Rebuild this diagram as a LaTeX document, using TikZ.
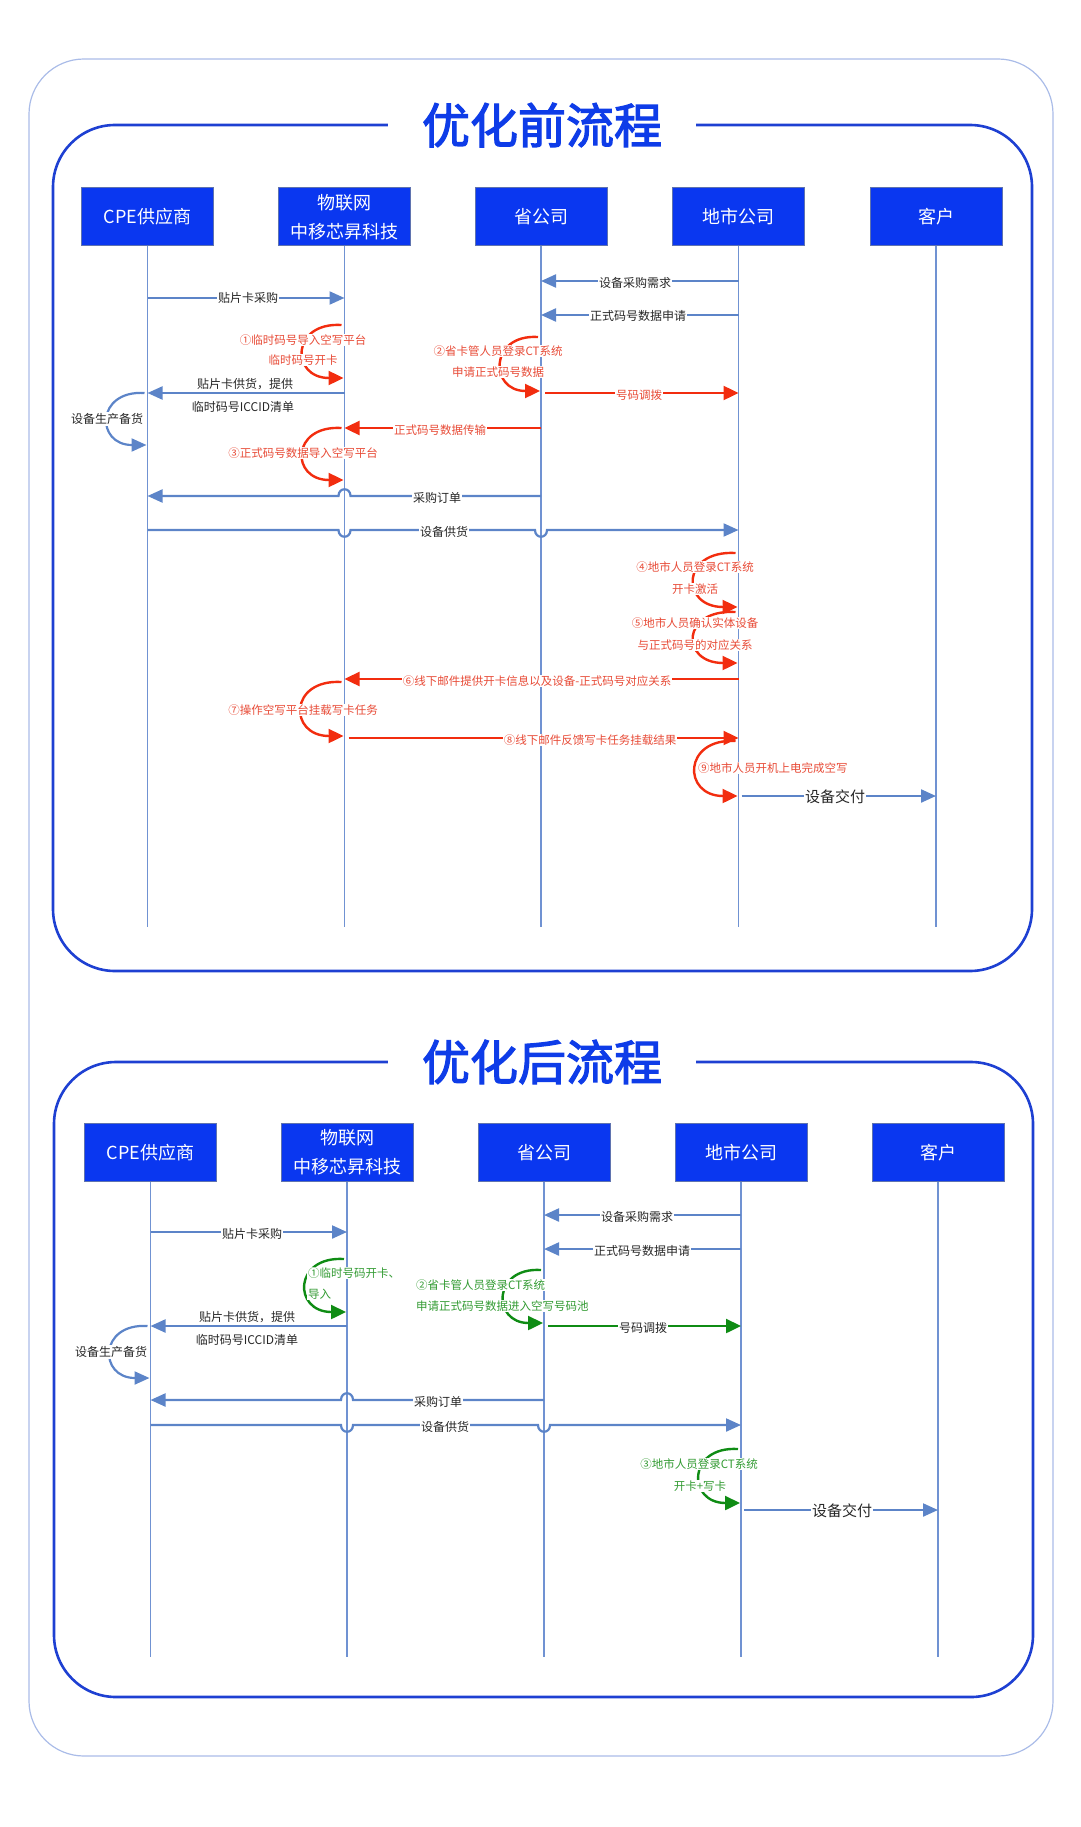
\documentclass[tikz,border=0pt]{standalone}
\usepackage{fontspec}
\setmainfont{Noto Sans CJK SC}
\newfontfamily\titlefont[FakeBold=2.5]{Noto Sans CJK SC}
\usetikzlibrary{arrows.meta,calc}

\definecolor{boxblue}{RGB}{10,55,240}
\definecolor{boxedge}{RGB}{95,115,175}
\definecolor{titleblue}{RGB}{14,60,232}
\definecolor{frameblue}{RGB}{30,64,210}
\definecolor{outerblue}{RGB}{170,188,232}
\definecolor{lifeblue}{RGB}{112,146,210}
\definecolor{msgblue}{RGB}{92,132,200}
\definecolor{stepred}{RGB}{242,45,15}
\definecolor{redtext}{RGB}{232,75,55}
\definecolor{stepgreen}{RGB}{15,140,20}
\definecolor{greentext}{RGB}{50,155,50}

\tikzset{
  lane/.style={draw=boxedge, line width=1pt, fill=boxblue, text=white, minimum width=132pt, minimum height=58pt, inner sep=0pt, align=center, font=\fontsize{18}{29}\selectfont},
  life/.style={lifeblue, line width=1.5pt},
  msg/.style={msgblue, line width=2.2pt, -{Triangle[length=15pt,width=13pt]}},
  redmsg/.style={stepred, line width=2.4pt, -{Triangle[length=15pt,width=14pt]}},
  greenmsg/.style={stepgreen, line width=2.4pt, -{Triangle[length=15pt,width=14pt]}},
  lbl/.style={fill=white, inner sep=1pt, text=black!85, font=\fontsize{12}{14}\selectfont},
  redlbl/.style={lbl, text=redtext, font=\fontsize{11.5}{14}\selectfont},
  greenlbl/.style={lbl, text=greentext, font=\fontsize{11.5}{14}\selectfont},
  heading/.style={fill=white, minimum width=308pt, inner sep=2pt, text=titleblue, font=\titlefont\fontsize{48}{52}\selectfont},
  frame/.style={frameblue, line width=2.6pt, rounded corners=62pt},
}
% curved step arrow beside a lifeline, bulging to the left
\def\steparc[#1](#2)(#3)#4{\draw[#1] ($(#2)+(-3,0)$) .. controls ($(#2)+(-#4,-3)$) and ($(#3)+(-#4,0)$) .. ($(#3)+(-1,0)$);}

\begin{document}
\begin{tikzpicture}[x=1pt,y=-1pt]
			\useasboundingbox (0,0) rectangle (1080,1827);
			%%%%% FRAMES %%%%%
			\draw[outerblue, line width=1.2pt, rounded corners=55pt] (29,59) rectangle (1053,1756);
			\draw[frame] (53,125) rectangle (1032,971);
			\draw[frame] (54,1062) rectangle (1033,1697);
			\node[heading] (headA) at (542,125) {优化前流程};
			\node[heading] (headB) at (542,1062) {优化后流程};
			
			%%%%% BEFORE %%%%%
			\node[lane] (cpeA) at (147.5,217) {CPE供应商};
			\node[lane] (iotA) at (344.5,217) {物联网\\中移芯昇科技};
			\node[lane] (provA) at (541,217) {省公司};
			\node[lane] (cityA) at (738.5,217) {地市公司};
			\node[lane] (custA) at (936,217) {客户};
			
			\draw[life] (cpeA.south) -- (cpeA.south |- 0,927);
			\draw[life] (iotA.south) -- (iotA.south |- 0,927);
			\draw[life] (provA.south) -- (provA.south |- 0,927);
			\draw[life] (cityA.south) -- (cityA.south |- 0,927);
			\draw[life] (custA.south) -- (custA.south |- 0,927);
			
			\draw[msg] (cityA |- 0,281) -- (provA |- 0,281);
			\node[lbl] (a1) at (635,283) {设备采购需求};
			\draw[msg] (cpeA |- 0,298) -- (iotA |- 0,298);
			\node[lbl] (a2) at (248,298) {贴片卡采购};
			\draw[msg] (cityA |- 0,315) -- (provA |- 0,315);
			\node[lbl] (a3) at (638,316) {正式码号数据申请};
			
			\steparc[redmsg](iotA |- 0,325)(iotA |- 0,378){54}
			\node[redlbl] (a4) at (303,340) {①临时码号导入空写平台};
			\node[redlbl] (a5) at (303,360) {临时码号开卡};
			
			\steparc[redmsg](provA |- 0,337)(provA |- 0,391){52}
			\node[redlbl] (a6) at (498,351) {②省卡管人员登录CT系统};
			\node[redlbl] (a7) at (498,372) {申请正式码号数据};
			\draw[redmsg] ($(provA |- 0,393)+(4,0)$) -- (cityA |- 0,393);
			\node[redlbl] (a8) at (639,395) {号码调拨};
			
			\draw[msg] (iotA |- 0,393) -- (cpeA |- 0,393);
			\node[lbl, fill=none] (a9) at (245,384) {贴片卡供货，提供};
			\node[lbl, fill=none] (a10) at (243,407) {临时码号ICCID清单};
			\steparc[msg](cpeA |- 0,393)(cpeA |- 0,445){52}
			\node[lbl] (a11) at (107,419) {设备生产备货};
			
			\draw[redmsg] (provA |- 0,428) -- (iotA |- 0,428);
			\node[redlbl] (a12) at (440,430) {正式码号数据传输};
			\steparc[redmsg](iotA |- 0,428)(iotA |- 0,480){54}
			\node[redlbl] (a13) at (303,453) {③正式码号数据导入空写平台};
			
			\draw[msg] (provA |- 0,496) -- ($(iotA |- 0,496)+(6,0)$) .. controls +(0,-9) and +(0,-9) .. ($(iotA |- 0,496)+(-6,0)$) -- (cpeA |- 0,496);
			\node[lbl] (a14) at (437,498) {采购订单};
			\draw[msg] (cpeA |- 0,530) -- ($(iotA |- 0,530)+(-6,0)$) .. controls +(0,9) and +(0,9) .. ($(iotA |- 0,530)+(6,0)$) -- ($(provA |- 0,530)+(-6,0)$) .. controls +(0,9) and +(0,9) .. ($(provA |- 0,530)+(6,0)$) -- (cityA |- 0,530);
			\node[lbl] (a15) at (444,532) {设备供货};
			
			\steparc[redmsg](cityA |- 0,553)(cityA |- 0,607){58}
			\node[redlbl] (a16) at (695,567) {④地市人员登录CT系统};
			\node[redlbl] (a17) at (695,589) {开卡激活};
			\steparc[redmsg](cityA |- 0,612)(cityA |- 0,663){58}
			\node[redlbl] (a18) at (695,623) {⑤地市人员确认实体设备};
			\node[redlbl] (a19) at (695,645) {与正式码号的对应关系};
			
			\draw[redmsg] (cityA |- 0,679) -- (iotA |- 0,679);
			\node[redlbl] (a20) at (537,681) {⑥线下邮件提供开卡信息以及设备-正式码号对应关系};
			\steparc[redmsg](iotA |- 0,682)(iotA |- 0,736){56}
			\node[redlbl] (a21) at (303,710) {⑦操作空写平台挂载写卡任务};
			\draw[redmsg] ($(iotA |- 0,738)+(4,0)$) -- (cityA |- 0,738);
			\node[redlbl] (a22) at (590,740) {⑧线下邮件反馈写卡任务挂载结果};
			\steparc[redmsg](cityA |- 0,741)(cityA |- 0,796){56}
			\node[redlbl, anchor=west] (a23) at (697,768) {⑨地市人员开机上电完成空写};
			
			\draw[msg] ($(cityA |- 0,796)+(3,0)$) -- (custA |- 0,796);
			\node[lbl, font=\fontsize{15}{17}\selectfont] (a24) at (835,797) {设备交付};
			
			%%%%% AFTER %%%%%
			\node[lane] (cpeB) at (150.5,1152.5) {CPE供应商};
			\node[lane] (iotB) at (347,1152.5) {物联网\\中移芯昇科技};
			\node[lane] (provB) at (544,1152.5) {省公司};
			\node[lane] (cityB) at (741,1152.5) {地市公司};
			\node[lane] (custB) at (938,1152.5) {客户};
			
			\draw[life] (cpeB.south) -- (cpeB.south |- 0,1657);
			\draw[life] (iotB.south) -- (iotB.south |- 0,1657);
			\draw[life] (provB.south) -- (provB.south |- 0,1657);
			\draw[life] (cityB.south) -- (cityB.south |- 0,1657);
			\draw[life] (custB.south) -- (custB.south |- 0,1657);
			
			\draw[msg] (cityB |- 0,1215) -- (provB |- 0,1215);
			\node[lbl] (b1) at (637,1217) {设备采购需求};
			\draw[msg] (cpeB |- 0,1232) -- (iotB |- 0,1232);
			\node[lbl] (b2) at (252,1234) {贴片卡采购};
			\draw[msg] (cityB |- 0,1249) -- (provB |- 0,1249);
			\node[lbl] (b3) at (642,1251) {正式码号数据申请};
			
			\steparc[greenmsg](iotB |- 0,1259)(iotB |- 0,1312){54}
			\node[greenlbl, anchor=west] (b4) at (307,1273) {①临时号码开卡、};
			\node[greenlbl, anchor=west] (b5) at (307,1294) {导入};
			
			\steparc[greenmsg](provB |- 0,1270)(provB |- 0,1323){52}
			\node[greenlbl, anchor=west] (b6) at (415,1285) {②省卡管人员登录CT系统};
			\node[greenlbl, anchor=west] (b7) at (415,1306) {申请正式码号数据进入空写号码池};
			\draw[greenmsg] ($(provB |- 0,1326)+(4,0)$) -- (cityB |- 0,1326);
			\node[lbl] (b8) at (643,1328) {号码调拨};
			
			\draw[msg] (iotB |- 0,1326) -- (cpeB |- 0,1326);
			\node[lbl, fill=none] (b9) at (247,1317) {贴片卡供货，提供};
			\node[lbl, fill=none] (b10) at (247,1340) {临时码号ICCID清单};
			\steparc[msg](cpeB |- 0,1326)(cpeB |- 0,1378){52}
			\node[lbl] (b11) at (111,1352) {设备生产备货};
			
			\draw[msg] (provB |- 0,1400) -- ($(iotB |- 0,1400)+(6,0)$) .. controls +(0,-9) and +(0,-9) .. ($(iotB |- 0,1400)+(-6,0)$) -- (cpeB |- 0,1400);
			\node[lbl] (b12) at (438,1402) {采购订单};
			\draw[msg] (cpeB |- 0,1425) -- ($(iotB |- 0,1425)+(-6,0)$) .. controls +(0,9) and +(0,9) .. ($(iotB |- 0,1425)+(6,0)$) -- ($(provB |- 0,1425)+(-6,0)$) .. controls +(0,9) and +(0,9) .. ($(provB |- 0,1425)+(6,0)$) -- (cityB |- 0,1425);
			\node[lbl] (b13) at (445,1427) {设备供货};
			
			\steparc[greenmsg](cityB |- 0,1449)(cityB |- 0,1503){54}
			\node[greenlbl] (b14) at (699,1464) {③地市人员登录CT系统};
			\node[greenlbl] (b15) at (700,1486) {开卡+写卡};
			
			\draw[msg] ($(cityB |- 0,1510)+(3,0)$) -- (custB |- 0,1510);
			\node[lbl, font=\fontsize{15}{17}\selectfont] (b16) at (842,1511) {设备交付};
			
			%%%%% END %%%%%
\end{tikzpicture}
\end{document}
